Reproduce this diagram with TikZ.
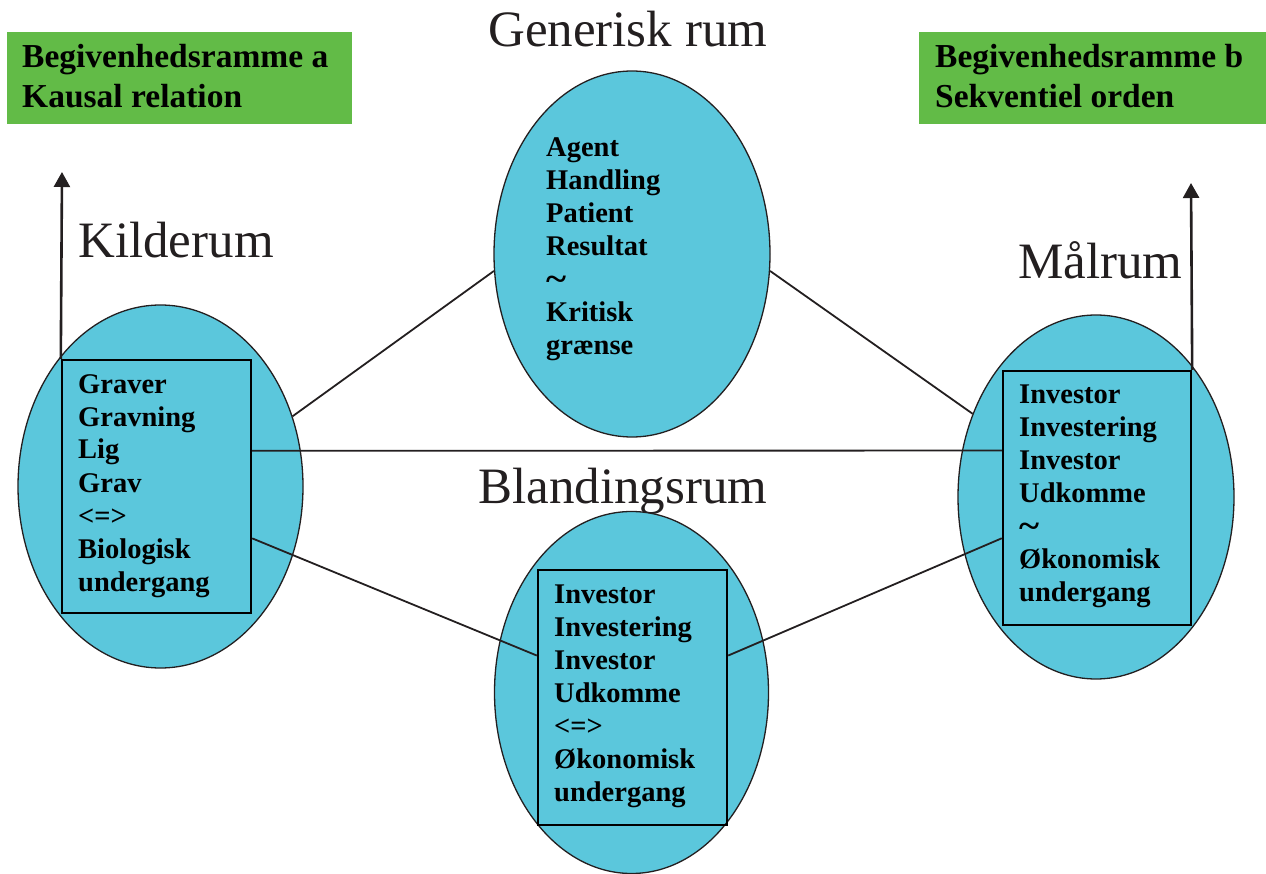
\documentclass[tikz,border=0pt]{standalone}
\usepackage{fontspec}
\setmainfont{Liberation Serif}
\usetikzlibrary{arrows.meta,shapes.geometric,calc}
\definecolor{ellfill}{RGB}{91,199,220}
\definecolor{framegreen}{RGB}{98,187,71}
\definecolor{inkdark}{RGB}{35,31,32}
\newcommand{\bigtilde}{\raisebox{-2pt}{\scalebox{1.35}[1.2]{\textasciitilde}}}
\begin{document}
\begin{tikzpicture}[x=1pt,y=-1pt,
  space/.style={ellipse, draw=inkdark, line width=1.3pt, fill=ellfill, inner sep=0pt},
  frame/.style={rectangle, draw=black, line width=2.4pt, inner sep=0pt},
  link/.style={draw=inkdark, line width=1.8pt},
  uparrow/.style={draw=inkdark, line width=2.6pt, -{Triangle[width=16pt,length=15pt]}},
  bigtitle/.style={anchor=base west, inner sep=0pt, font=\fontsize{51}{60}\selectfont, text=inkdark},
  greenbox/.style={rectangle, fill=framegreen, inner sep=0pt, anchor=north west},
  items/.style={anchor=base west, inner sep=0pt, font=\fontsize{28.5}{33}\selectfont\bfseries, text=black},
  gtext/.style={anchor=base west, inner sep=0pt, font=\fontsize{33.5}{40}\selectfont\bfseries, text=black}
]
\useasboundingbox (0,0) rectangle (1266,874);

% green frames
\node[greenbox, minimum width=345pt, minimum height=92pt] (gA) at (7,32) {};
\node[greenbox, minimum width=347pt, minimum height=92pt] (gB) at (919,32) {};
\node[gtext] (tA) at (22,68) {\begin{tabular}[t]{@{}l@{}}Begivenhedsramme a\\Kausal relation\end{tabular}};
\node[gtext] (tB) at (935,68) {\begin{tabular}[t]{@{}l@{}}Begivenhedsramme b\\Sekventiel orden\end{tabular}};

% titles
\node[bigtitle] (lgen) at (488,47) {Generisk rum};
\node[bigtitle] (lsrc) at (78,258) {Kilderum};
\node[bigtitle] (ltgt) at (1018,279) {Målrum};
\node[bigtitle] (lbld) at (478,503) {Blandingsrum};

% ellipses
\node[space, minimum width=276pt, minimum height=366pt] (gen) at (632,254) {};
\node[space, minimum width=285pt, minimum height=363pt] (src) at (160.5,486.5) {};
\node[space, minimum width=276pt, minimum height=364pt] (tgt) at (1096,497) {};
\node[space, minimum width=274pt, minimum height=362pt] (bld) at (631.5,692.5) {};

% frames inside ellipses
\node[frame, minimum width=189pt, minimum height=253pt] (lbox) at (156.5,486.5) {};
\node[frame, minimum width=188pt, minimum height=254pt] (rbox) at (1097,498) {};
\node[frame, minimum width=189pt, minimum height=255pt] (bbox) at (632.5,697.5) {};

% texts
\node[items] (gentext) at (546,157) {\begin{tabular}[t]{@{}l@{}}Agent\\Handling\\Patient\\Resultat\\\bigtilde\\Kritisk\\grænse\end{tabular}};
\node[items] (srctext) at (78,393) {\begin{tabular}[t]{@{}l@{}}Graver\\Gravning\\Lig\\Grav\\<=>\\Biologisk\\undergang\end{tabular}};
\node[items] (tgttext) at (1019,403) {\begin{tabular}[t]{@{}l@{}}Investor\\Investering\\Investor\\Udkomme\\\bigtilde\\Økonomisk\\undergang\end{tabular}};
\node[items] (bldtext) at (554,603) {\begin{tabular}[t]{@{}l@{}}Investor\\Investering\\Investor\\Udkomme\\<=>\\Økonomisk\\undergang\end{tabular}};

% connectors
\draw[link] (src.28) -- (gen.187.5);
\draw[link] (gen.-7) -- (tgt.146.7);
\draw[link] ($(lbox.north east)!0.36!(lbox.south east)$) -- ($(rbox.north west)!0.315!(rbox.south west)$);
\draw[link] ($(lbox.north east)!0.703!(lbox.south east)$) -- ($(bbox.north west)!0.337!(bbox.south west)$);
\draw[link] ($(bbox.north east)!0.337!(bbox.south east)$) -- ($(rbox.north west)!0.657!(rbox.south west)$);

% arrows
\coordinate (ltip) at (62,172);
\coordinate (rtip) at (1191,183);
\draw[uparrow] (lbox.north west) -- (ltip);
\draw[uparrow] (rbox.north east) -- (rtip);
\end{tikzpicture}
\end{document}
